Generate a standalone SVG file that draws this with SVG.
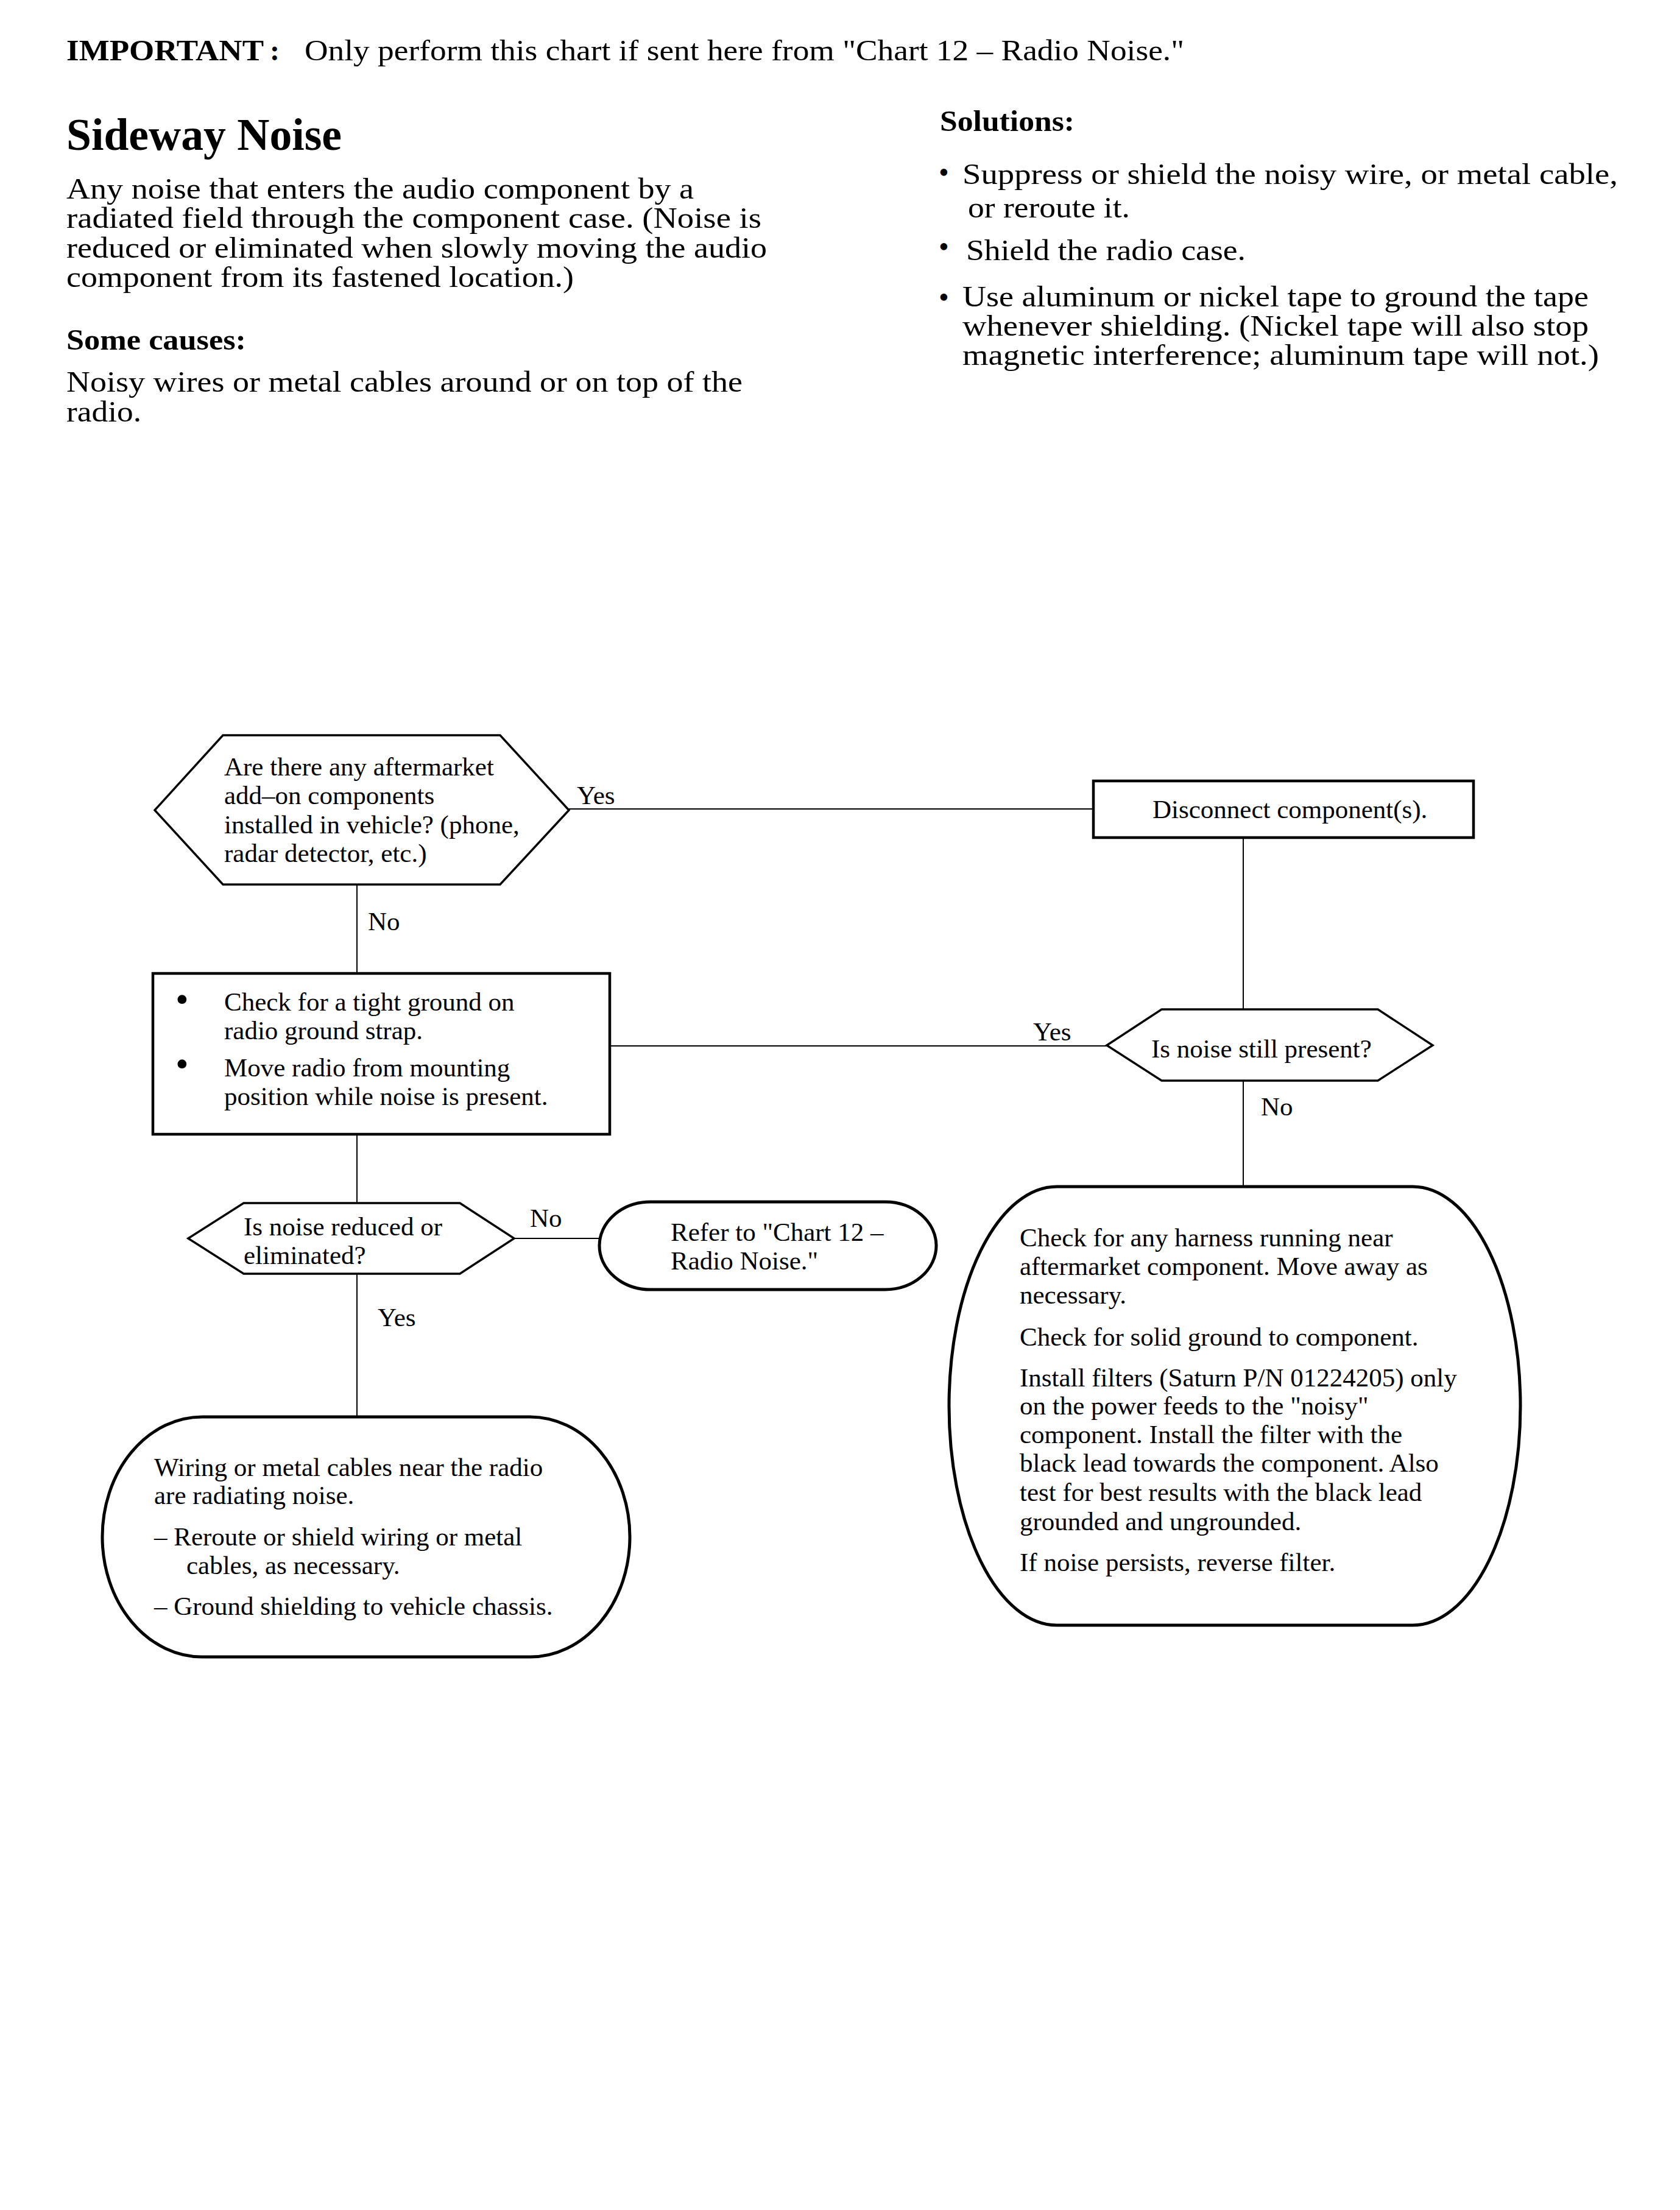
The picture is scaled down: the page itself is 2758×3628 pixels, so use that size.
<svg xmlns="http://www.w3.org/2000/svg" width="2758" height="3628" viewBox="0 0 2758 3628">
<style>
text{font-family:"Liberation Serif","Times New Roman",serif;fill:#000}
.h{font-size:48px}
.hb{font-size:48px;font-weight:bold}
.t{font-size:74px;font-weight:bold}
.f{font-size:43px}
.bul{font-size:62px}
.node{fill:#fff;stroke:#000;stroke-linejoin:miter}
.hex{stroke-width:3.5}
.box{stroke-width:4.5}
.rnd{stroke-width:5}
.conn line{stroke:#000;stroke-width:2}
</style>
<rect x="0" y="0" width="2758" height="3628" fill="#fff"/>
<g id="header">
<text class="hb" x="109" y="99" textLength="324" lengthAdjust="spacingAndGlyphs">IMPORTANT</text>
<text class="hb" x="443" y="99">:</text>
<text class="h" x="500" y="99" textLength="1444" lengthAdjust="spacingAndGlyphs">Only perform this chart if sent here from "Chart 12 – Radio Noise."</text>
<text class="t" x="109" y="246" textLength="452" lengthAdjust="spacingAndGlyphs">Sideway Noise</text>
<text class="h" x="109" y="326" textLength="1030" lengthAdjust="spacingAndGlyphs">Any noise that enters the audio component by a</text>
<text class="h" x="109" y="374" textLength="1141" lengthAdjust="spacingAndGlyphs">radiated field through the component case.  (Noise is</text>
<text class="h" x="109" y="423" textLength="1150" lengthAdjust="spacingAndGlyphs">reduced or eliminated when slowly moving the audio</text>
<text class="h" x="109" y="471" textLength="833" lengthAdjust="spacingAndGlyphs">component from its fastened location.)</text>
<text class="hb" x="109" y="574" textLength="295" lengthAdjust="spacingAndGlyphs">Some causes:</text>
<text class="h" x="109" y="643" textLength="1110" lengthAdjust="spacingAndGlyphs">Noisy wires or metal cables around or on top of the</text>
<text class="h" x="109" y="692" textLength="123" lengthAdjust="spacingAndGlyphs">radio.</text>
<text class="hb" x="1543" y="215" textLength="221" lengthAdjust="spacingAndGlyphs">Solutions:</text>
<text class="h" x="1541" y="299">•</text>
<text class="h" x="1580" y="302" textLength="1076" lengthAdjust="spacingAndGlyphs">Suppress or shield the noisy wire,  or metal cable,</text>
<text class="h" x="1589" y="357" textLength="266" lengthAdjust="spacingAndGlyphs">or reroute it.</text>
<text class="h" x="1541" y="421">•</text>
<text class="h" x="1586" y="427" textLength="459" lengthAdjust="spacingAndGlyphs">Shield the radio case.</text>
<text class="h" x="1541" y="504">•</text>
<text class="h" x="1580" y="503" textLength="1028" lengthAdjust="spacingAndGlyphs">Use aluminum or nickel tape to ground the tape</text>
<text class="h" x="1580" y="551" textLength="1028" lengthAdjust="spacingAndGlyphs">whenever shielding.  (Nickel tape will also stop</text>
<text class="h" x="1580" y="599" textLength="1045" lengthAdjust="spacingAndGlyphs">magnetic interference;  aluminum tape will not.)</text>
</g>
<g id="connectors" class="conn">
<line x1="934" y1="1328" x2="1795" y2="1328"/>
<line x1="586" y1="1452" x2="586" y2="1598"/>
<line x1="2041" y1="1375" x2="2041" y2="1657"/>
<line x1="1001" y1="1717" x2="1817" y2="1717"/>
<line x1="586" y1="1862" x2="586" y2="1975"/>
<line x1="844" y1="2033" x2="986" y2="2033"/>
<line x1="586" y1="2091" x2="586" y2="2326"/>
<line x1="2041" y1="1774" x2="2041" y2="1948"/>
<text class="f" x="947" y="1320">Yes</text>
<text class="f" x="604" y="1527">No</text>
<text class="f" x="1696" y="1708">Yes</text>
<text class="f" x="2070" y="1831">No</text>
<text class="f" x="870" y="2014">No</text>
<text class="f" x="620" y="2177">Yes</text>
</g>
<g id="q-aftermarket">
<polygon class="node hex" points="254,1330 366,1207 821,1207 934,1330 821,1452 366,1452"/>
<text class="f" x="368" y="1273">Are there any aftermarket</text>
<text class="f" x="368" y="1320">add–on components</text>
<text class="f" x="368" y="1368">installed in vehicle? (phone,</text>
<text class="f" x="368" y="1415">radar detector, etc.)</text>
</g>
<g id="check-ground">
<rect class="node box" x="251" y="1598" width="750" height="264"/>
<text class="bul" x="288" y="1661">•</text>
<text class="f" x="368" y="1659">Check for a tight ground on</text>
<text class="f" x="368" y="1706">radio ground strap.</text>
<text class="bul" x="288" y="1767">•</text>
<text class="f" x="368" y="1767">Move radio from mounting</text>
<text class="f" x="368" y="1814">position while noise is present.</text>
</g>
<g id="disconnect">
<rect class="node box" x="1795" y="1282" width="624" height="93"/>
<text class="f" x="1892" y="1343">Disconnect component(s).</text>
</g>
<g id="q-still-present">
<polygon class="node hex" points="1817,1716 1907,1657 2262,1657 2352,1716 2262,1774 1907,1774"/>
<text class="f" x="1890" y="1736">Is noise still present?</text>
</g>
<g id="q-reduced">
<polygon class="node hex" points="309,2033 400,1975 755,1975 844,2033 755,2091 400,2091"/>
<text class="f" x="400" y="2028">Is noise reduced or</text>
<text class="f" x="400" y="2075">eliminated?</text>
</g>
<g id="refer-chart12">
<rect class="node rnd" x="984" y="1973" width="553" height="144" rx="84" ry="72"/>
<text class="f" x="1101" y="2037">Refer to "Chart 12 –</text>
<text class="f" x="1101" y="2084">Radio Noise."</text>
</g>
<g id="wiring-radiating">
<rect class="node rnd" x="168" y="2326" width="866" height="394" rx="164" ry="197"/>
<text class="f" x="253" y="2423">Wiring or metal cables near the radio</text>
<text class="f" x="253" y="2469">are radiating noise.</text>
<text class="f" x="253" y="2537">– Reroute or shield wiring or metal</text>
<text class="f" x="306" y="2584">cables, as necessary.</text>
<text class="f" x="253" y="2651">– Ground shielding to vehicle chassis.</text>
</g>
<g id="check-harness">
<rect class="node rnd" x="1558" y="1948" width="938" height="720" rx="177" ry="360"/>
<text class="f" x="1674" y="2046">Check for any harness running near</text>
<text class="f" x="1674" y="2093">aftermarket component. Move away as</text>
<text class="f" x="1674" y="2140">necessary.</text>
<text class="f" x="1674" y="2209">Check for solid ground to component.</text>
<text class="f" x="1674" y="2276">Install filters (Saturn P/N 01224205) only</text>
<text class="f" x="1674" y="2322">on the power feeds to the "noisy"</text>
<text class="f" x="1674" y="2369">component. Install the filter with the</text>
<text class="f" x="1674" y="2416">black lead towards the component. Also</text>
<text class="f" x="1674" y="2464">test for best results with the black lead</text>
<text class="f" x="1674" y="2512">grounded and ungrounded.</text>
<text class="f" x="1674" y="2579">If noise persists, reverse filter.</text>
</g>
</svg>
